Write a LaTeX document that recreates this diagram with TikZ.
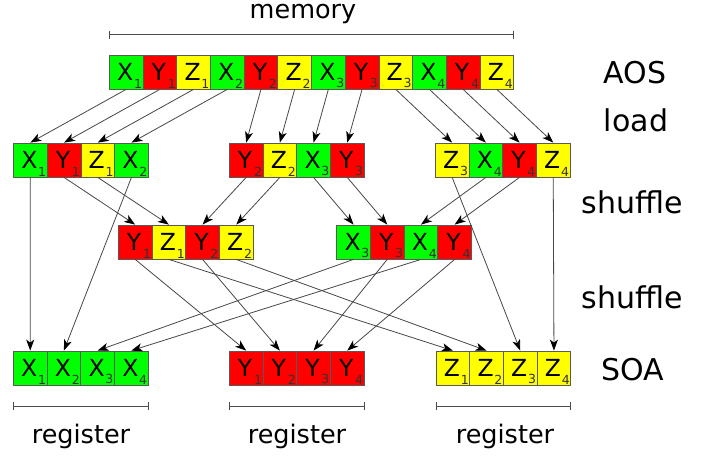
\documentclass[tikz,border=0pt]{standalone}
\usepackage{fontspec}
\setmainfont{DejaVu Sans}
\usetikzlibrary{arrows.meta}
\definecolor{cg}{RGB}{0,255,0}
\definecolor{cr}{RGB}{255,0,0}
\definecolor{cy}{RGB}{255,255,0}
\tikzset{
  cell/.style={draw=black!65, line width=0.8pt, minimum width=33.7pt,
    minimum height=34pt, inner sep=0pt, font=\fontsize{23.5}{23.5}\selectfont},
  sub/.style={font=\fontsize{12.5}{12.5}\selectfont, text=black!80,
    inner sep=1.2pt, anchor=south east},
  arr/.style={draw=black!72, line width=0.8pt,
    -{Stealth[length=11pt,width=8pt,inset=3pt,color=black]}},
  brk/.style={draw=black!70, line width=0.8pt, {Bar[width=8pt]}-{Bar[width=8pt]}},
  side/.style={font=\fontsize{30}{30}\selectfont, anchor=base},
  caption/.style={font=\fontsize{25.5}{25.5}\selectfont, anchor=base},
}
% one register (or memory strip): prefix, centre x of first cell, centre y, cells
\newcommand\regrow[4]{%
  \foreach \lt/\sb/\cc [count=\i from 0] in {#4}
    \node[cell, fill=\cc, label={[sub]south east:\sb}] (#1\i) at ({#2+33.7*\i},#3) {\kern-2pt\lt};
}
\begin{document}
\begin{tikzpicture}[x=1pt,y=-1pt]
\useasboundingbox (0,0) rectangle (708,455);

% memory in AOS layout
\regrow{t}{126.15}{72}{X/1/cg,Y/1/cr,Z/1/cy,X/2/cg,Y/2/cr,Z/2/cy,X/3/cg,Y/3/cr,Z/3/cy,X/4/cg,Y/4/cr,Z/4/cy}

% loaded registers
\regrow{a}{30.35}{160}{X/1/cg,Y/1/cr,Z/1/cy,X/2/cg}
\regrow{b}{246.15}{160}{Y/2/cr,Z/2/cy,X/3/cg,Y/3/cr}
\regrow{c}{452.15}{160}{Z/3/cy,X/4/cg,Y/4/cr,Z/4/cy}

% after first shuffle
\regrow{d}{135.15}{242}{Y/1/cr,Z/1/cy,Y/2/cr,Z/2/cy}
\regrow{e}{353.55}{242}{X/3/cg,Y/3/cr,X/4/cg,Y/4/cr}

% SOA registers
\regrow{x}{30.2}{368}{X/1/cg,X/2/cg,X/3/cg,X/4/cg}
\regrow{y}{246.15}{368}{Y/1/cr,Y/2/cr,Y/3/cr,Y/4/cr}
\regrow{z}{452.85}{368}{Z/1/cy,Z/2/cy,Z/3/cy,Z/4/cy}

% load
\foreach \i in {0,...,3} {
  \pgfmathtruncatemacro\j{\i+4}
  \pgfmathtruncatemacro\k{\i+8}
  \draw[arr] (t\i.south) -- (a\i.north);
  \draw[arr] (t\j.south) -- (b\i.north);
  \draw[arr] (t\k.south) -- (c\i.north);
}

% first shuffle
\draw[arr] (a1.south) -- (d0.north);
\draw[arr] (a2.south) -- (d1.north);
\draw[arr] (b0.south) -- (d2.north);
\draw[arr] (b1.south) -- (d3.north);
\draw[arr] (b2.south) -- (e0.north);
\draw[arr] (b3.south) -- (e1.north);
\draw[arr] (c1.south) -- (e2.north);
\draw[arr] (c2.south) -- (e3.north);

% second shuffle
\draw[arr] (a0.south) -- (x0.north);
\draw[arr] (a3.south) -- (x1.north);
\draw[arr] (e0.south) -- (x2.north);
\draw[arr] (e2.south) -- (x3.north);
\draw[arr] (d0.south) -- (y0.north);
\draw[arr] (d2.south) -- (y1.north);
\draw[arr] (e1.south) -- (y2.north);
\draw[arr] (e3.south) -- (y3.north);
\draw[arr] (d1.south) -- (z0.north);
\draw[arr] (d3.south) -- (z1.north);
\draw[arr] (c0.south) -- (z2.north);
\draw[arr] (c3.south) -- (z3.north);

% extents
\draw[brk] ([yshift=20pt]t0.north west) -- ([yshift=20pt]t11.north east);
\node[caption] (mem) at (303,18.3) {memory};
\foreach \r/\cx in {x/81,y/297,z/505} {
  \draw[brk] ([yshift=-21pt]\r0.south west) -- ([yshift=-21pt]\r3.south east);
  \node[caption] (reg\r) at (\cx,443.5) {register};
}

% stage labels
\node[side] (aos) at (635,83.3) {AOS};
\node[side] (load) at (636,131.7) {load};
\node[side] (shufa) at (632,213.3) {shuffle};
\node[side] (shufb) at (632,308.3) {shuffle};
\node[side] (soa) at (633,380) {SOA};
\end{tikzpicture}
\end{document}
